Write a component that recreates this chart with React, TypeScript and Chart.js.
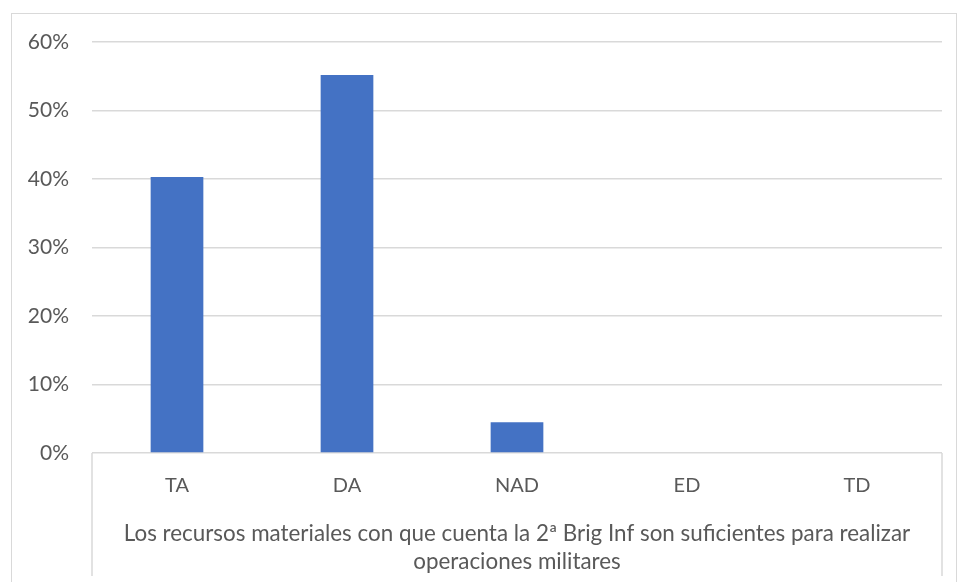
import React, { useEffect, useRef } from "react";
import { Chart, registerables } from "chart.js";

Chart.register(...registerables);

const categories = ["TA", "DA", "NAD", "ED", "TD"];
const values = [0.403, 0.552, 0.045, 0, 0];
const axisTitle = [
  "Los recursos materiales con que cuenta la 2ª Brig Inf son suficientes para realizar",
  "operaciones militares",
];
const yMax = 0.6;
const yStep = 0.1;

const FONT = "Lato, 'Noto Sans', sans-serif";
const TEXT = "#595959";
const GRID = "#d9d9d9";
const BAR = "#4472c4";

const axisBoxPlugin = {
  id: "axisBox",
  afterDraw(chart: any) {
    const { ctx, chartArea } = chart;
    ctx.save();
    ctx.strokeStyle = GRID;
    ctx.lineWidth = 1.5;
    ctx.beginPath();
    ctx.moveTo(chartArea.left, chartArea.bottom);
    ctx.lineTo(chartArea.left, chart.height - 6);
    ctx.moveTo(chartArea.right, chartArea.bottom);
    ctx.lineTo(chartArea.right, chart.height - 6);
    ctx.stroke();
    ctx.restore();
  },
};

export default function App() {
  const ref = useRef<HTMLCanvasElement | null>(null);

  useEffect(() => {
    if (!ref.current) return;
    const chart = new Chart(ref.current, {
      type: "bar",
      data: {
        labels: categories,
        datasets: [
          {
            data: values,
            backgroundColor: BAR,
            borderWidth: 0,
            barPercentage: 0.31,
            categoryPercentage: 1,
          },
        ],
      },
      options: {
        animation: false,
        responsive: false,
        maintainAspectRatio: false,
        layout: { padding: { top: 42, right: 16, left: 0, bottom: 0 } },
        plugins: {
          legend: { display: false },
          tooltip: { enabled: false },
          title: { display: false },
        },
        scales: {
          x: {
            offset: true,
            grid: { display: false, drawTicks: false },
            border: { display: false },
            ticks: {
              color: TEXT,
              font: { family: FONT, size: 20 },
              padding: 21,
              maxRotation: 0,
              autoSkip: false,
            },
            title: {
              display: true,
              text: axisTitle,
              color: TEXT,
              font: { family: FONT, size: 22.4, lineHeight: "28px" },
              padding: { top: 0, bottom: 6 },
            },
            afterFit(scale: any) {
              scale.height = 129;
            },
          },
          y: {
            min: 0,
            max: yMax,
            grid: { color: GRID, lineWidth: 1.5, drawTicks: false },
            border: { display: false },
            ticks: {
              stepSize: yStep,
              color: TEXT,
              font: { family: FONT, size: 21 },
              padding: 23,
              callback: (v: any) => `${Math.round(Number(v) * 100)}%`,
            },
            afterFit(scale: any) {
              scale.width = 92;
            },
          },
        },
      },
      plugins: [axisBoxPlugin],
    });
    return () => chart.destroy();
  }, []);

  return (
    <div style={{ position: "fixed", left: 0, top: 0, width: 958, height: 582, background: "#fff" }}>
      <canvas ref={ref} width={958} height={582} style={{ display: "block" }} />
      <div
        style={{
          position: "absolute",
          left: 11,
          top: 13,
          width: 946,
          height: 600,
          boxSizing: "border-box",
          border: `1.5px solid ${GRID}`,
          pointerEvents: "none",
        }}
      />
    </div>
  );
}
